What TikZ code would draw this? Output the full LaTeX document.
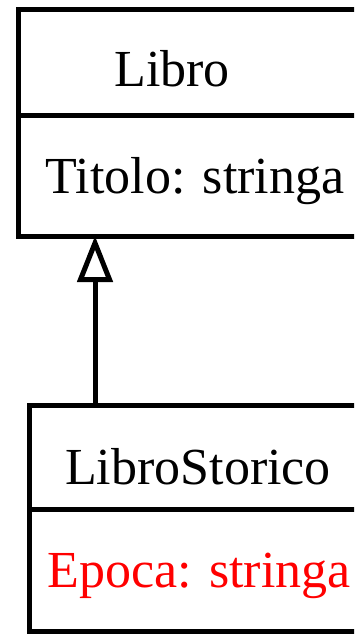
\documentclass[tikz,border=0pt]{standalone}
\usepackage{fontspec}
\setmainfont{Liberation Serif}
\usetikzlibrary{arrows.meta}
\begin{document}
\begin{tikzpicture}[x=1pt,y=-1pt,
  classbox/.style={draw=black,line width=5pt,rectangle,inner sep=0pt,outer sep=0pt},
  label/.style={font=\fontsize{52}{60}\selectfont,anchor=base,inner sep=0pt},
  divider/.style={line width=5pt},
  inherit/.style={line width=5pt,-{Triangle[open,length=46pt,width=35pt]}}]
\useasboundingbox (0,0) rectangle (354,634);
\clip (0,0) rectangle (354,634);
\fill[white] (0,0) rectangle (354,634);
% Libro
\node[classbox,minimum width=362pt,minimum height=226pt] (libro) at (199,123) {};
\draw[divider] (libro.west |- 0,115) -- (libro.east |- 0,115);
\node[label] (libroname) at (172,86) {Libro};
\node[label] (libroattr) at (195,193) {Titolo: stringa};
% LibroStorico
\node[classbox,minimum width=351pt,minimum height=226.5pt] (storico) at (204.5,518.25) {};
\draw[divider] (storico.west |- 0,509) -- (storico.east |- 0,509);
\node[label] (storiconame) at (198,484) {LibroStorico};
\node[label,text=red] (storicoattr) at (199,587) {Epoca: stringa};
% inheritance
\coordinate (ax) at (95,0);
\draw[inherit] (storico.north -| ax) -- (libro.south -| ax);
\end{tikzpicture}
\end{document}
